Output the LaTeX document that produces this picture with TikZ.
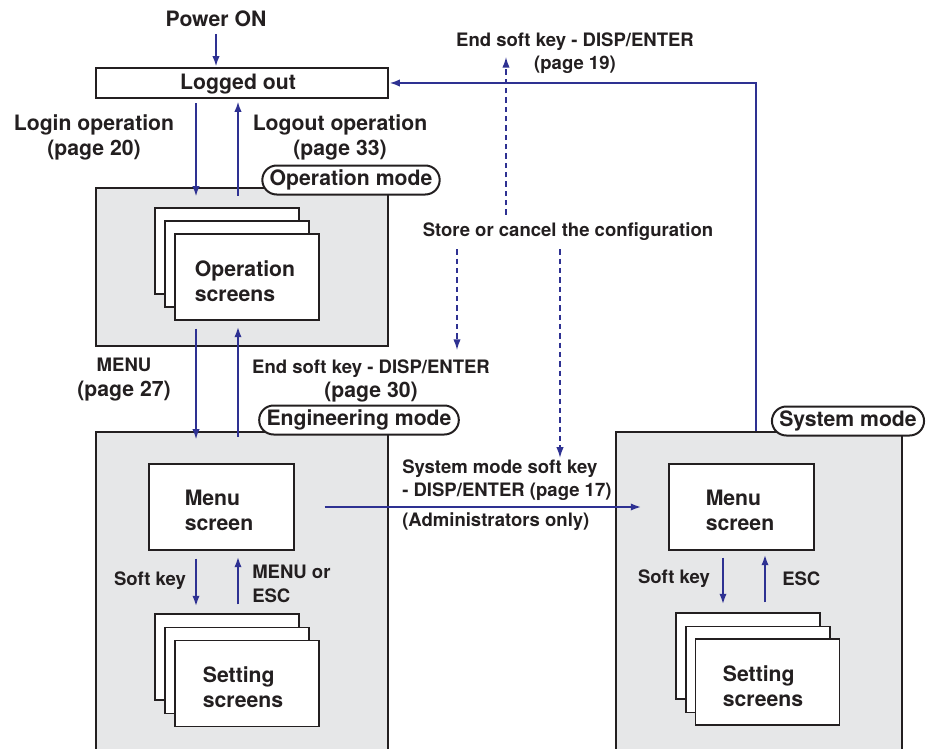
\documentclass[tikz,border=0pt]{standalone}
\usepackage{fontspec}
\setmainfont{TeX Gyre Heros}
\usetikzlibrary{arrows.meta}
\definecolor{ablue}{RGB}{46,49,146}
\definecolor{boxgray}{RGB}{230,231,232}
\definecolor{ink}{RGB}{35,31,32}
\newcommand\bigfnt{\fontsize{15.9}{18.75}\selectfont\bfseries}
\newcommand\smlfnt{\fontsize{13.9}{17.5}\selectfont\bfseries}
\begin{document}
\begin{tikzpicture}[x=0.75pt,y=-0.75pt,
  modebox/.style={draw=ink, line width=1.7pt, fill=boxgray, inner sep=0pt},
  scr/.style={draw=ink, line width=0.8pt, fill=white, minimum width=108pt, minimum height=64.5pt, inner sep=0pt},
  scrtext/.style={font=\bigfnt, text=ink, align=left, inner sep=0pt},
  pill/.style={draw=ink, line width=1.5pt, fill=white, rounded corners=10.8pt, minimum height=21.75pt, inner xsep=5.5pt, inner ysep=0pt, font=\bigfnt, text=ink},
  arr/.style={draw=ablue, line width=1.6pt, -{Latex[length=8pt,width=5.5pt]}},
  darr/.style={draw=ablue, line width=1pt, dash pattern=on 4pt off 3pt, -{Latex[length=8pt,width=5.5pt]}},
  lbl/.style={font=\bigfnt, text=ink, align=center, inner sep=0pt},
  slbl/.style={font=\smlfnt, text=ink, align=center, inner sep=0pt},
]
\useasboundingbox (0,0) rectangle (929,749);
\clip (0,0) rectangle (929,749);

% mode boxes
\node[modebox, minimum width=219pt, minimum height=118.5pt] (opbox) at (242,267) {};
\node[modebox, minimum width=219pt, minimum height=253.5pt] (engbox) at (242,601) {};
\node[modebox, minimum width=214.5pt, minimum height=253.5pt] (sysbox) at (759,601) {};

% logged out
\node[draw=ink, line width=1.7pt, fill=white, minimum width=219pt, minimum height=22.5pt, inner sep=0pt] (logged) at (242,83) {};
\node[lbl] (loggedtxt) at (238,84.5) {Logged out};

% mode labels
\node[pill] (oplbl) at (351,180) {Operation mode};
\node[pill] (englbl) at (359,420) {Engineering mode};
\node[pill] (syslbl) at (848,421) {System mode};

% operation screens
\node[scr] (ops3) at (227,251) {};
\node[scr] (ops2) at (237,264) {};
\node[scr] (ops1) at (247,277) {};
\node[scrtext] (ops1txt) at (245,281) {Operation\\screens};

% engineering
\node[scr, minimum width=108.75pt] (engmenu) at (221.5,507) {};
\node[scrtext] (engmenutxt) at (219,510) {Menu\\screen};
\node[scr] (engs3) at (227,657) {};
\node[scr] (engs2) at (237,670.5) {};
\node[scr] (engs1) at (247,683.5) {};
\node[scrtext] (engs1txt) at (243,687) {Setting\\screens};

% system
\node[scr, minimum width=108.75pt] (sysmenu) at (741.5,507) {};
\node[scrtext] (sysmenutxt) at (740,510) {Menu\\screen};
\node[scr] (syss3) at (748,656) {};
\node[scr] (syss2) at (758,669.5) {};
\node[scr] (syss1) at (767.5,682) {};
\node[scrtext] (syss1txt) at (763,686) {Setting\\screens};

% labels
\node[lbl] (power) at (216,19) {Power ON};
\node[lbl] (login) at (94,137) {Login operation\\(page 20)};
\node[lbl] (logout) at (340,137) {Logout operation\\(page 33)};
\node[lbl] (menu27) at (124,380) {{\smlfnt MENU}\\(page 27)};
\node[slbl] (end30) at (371,381) {End soft key - DISP/ENTER\\{\bigfnt (page 30)}};
\node[slbl] (end19) at (575,53) {End soft key - DISP/ENTER\\(page 19)};
\node[slbl] (store) at (568,232) {Store or cancel the configuration};
\node[slbl, align=left, anchor=west] (systxt) at (402,480) {System mode soft key\\- DISP/ENTER (page 17)};
\node[slbl, anchor=west] (admin) at (402,522) {(Administrators only)};
\node[slbl] (softE) at (150,581) {Soft key};
\node[slbl, align=left, anchor=west] (menuesc) at (252,584) {MENU or\\ESC};
\node[slbl] (softS) at (674,579) {Soft key};
\node[slbl, anchor=west] (esc) at (782,579) {ESC};

% helper coordinates
\coordinate (cL) at (196,0);
\coordinate (cR) at (238,0);
\coordinate (sL) at (723,0);
\coordinate (sR) at (765,0);
\coordinate (ret) at (756,0);
\coordinate (d1) at (506,0);
\coordinate (d2) at (457,0);
\coordinate (d3) at (560,0);
\coordinate (d1top) at (506,57);
\coordinate (d2end) at (457,350);

% arrows
\draw[arr] ([yshift=-5pt]power.south) -- (power.south |- logged.north);
\draw[arr] ([yshift=-3pt]logged.south -| cL) -- ([yshift=-7.5pt]opbox.north -| cL);
\draw[arr] ([yshift=-6.75pt]opbox.north -| cR) -- ([yshift=-1.5pt]logged.south -| cR);
\draw[arr] ([yshift=-6pt]ops1.south -| cL) -- ([yshift=-6.75pt]engbox.north -| cL);
\draw[arr] ([yshift=-4.5pt]engbox.north -| cR) -- ([yshift=-4.5pt]ops1.south -| cR);
\draw[arr] ([yshift=-6pt]engmenu.south -| cL) -- ([yshift=5.25pt]engs3.north -| cL);
\draw[arr] ([yshift=6.75pt]engs3.north -| cR) -- ([yshift=-4.5pt]engmenu.south -| cR);
\draw[arr] ([yshift=-5.25pt]sysmenu.south -| sL) -- ([yshift=6pt]syss3.north -| sL);
\draw[arr] ([yshift=7.5pt]syss3.north -| sR) -- ([yshift=-3pt]sysmenu.south -| sR);
\draw[arr] ([xshift=22.5pt]engmenu.east) -- ([xshift=-20.25pt]sysmenu.west);
\draw[arr] (sysbox.north -| ret) |- (logged.east);

% dashed
\draw[darr] ([yshift=6pt]store.north -| d1) -- (d1top);
\draw[darr] ([yshift=-6pt]store.south -| d2) -- (d2end);
\draw[darr] ([yshift=-6pt]store.south -| d3) -- ([yshift=1pt]systxt.north -| d3);
\end{tikzpicture}
\end{document}
